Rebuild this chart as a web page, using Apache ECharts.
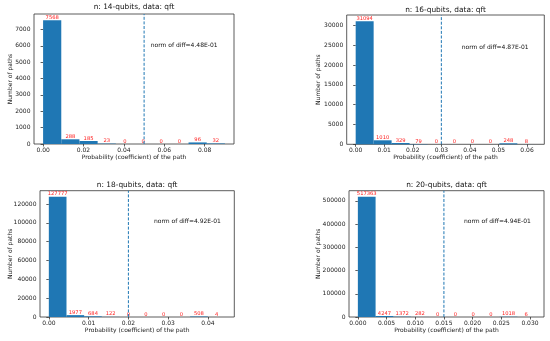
<!DOCTYPE html>
<html>
<head>
<meta charset="utf-8">
<script src="https://cdn.jsdelivr.net/npm/echarts@6/dist/echarts.min.js"></script>
<style>html,body{margin:0;padding:0;background:#fff}#c{width:550px;height:341px}</style>
</head>
<body>
<div id="c"></div>
<script>
// ---- data ----
const titles = ['n: 14-qubits, data: qft', 'n: 16-qubits, data: qft', 'n: 18-qubits, data: qft', 'n: 20-qubits, data: qft'];
const counts14 = [7568, 288, 185, 23, 0, 0, 0, 0, 96, 32];
const counts16 = [31094, 1010, 329, 79, 0, 0, 0, 0, 248, 8];
const counts18 = [127777, 1977, 684, 122, 0, 0, 0, 0, 508, 4];
const counts20 = [517363, 4247, 1372, 282, 0, 0, 0, 0, 1018, 6];
const binWidths = [0.009, 0.00629, 0.00444, 0.00309];
const thresholds = [0.05, 0.03, 0.02, 0.015];
const normTexts = ['norm of diff=4.48E-01', 'norm of diff=4.87E-01', 'norm of diff=4.92E-01', 'norm of diff=4.94E-01'];
const xTicks14 = ['0.00', '0.02', '0.04', '0.06', '0.08'];
const xTicks16 = ['0.00', '0.01', '0.02', '0.03', '0.04', '0.05', '0.06'];
const xTicks18 = ['0.00', '0.01', '0.02', '0.03', '0.04'];
const xTicks20 = ['0.000', '0.005', '0.010', '0.015', '0.020', '0.025', '0.030'];
const yTicks14 = [0, 1000, 2000, 3000, 4000, 5000, 6000, 7000];
const yTicks16 = [0, 5000, 10000, 15000, 20000, 25000, 30000];
const yTicks18 = [0, 20000, 40000, 60000, 80000, 100000, 120000];
const yTicks20 = [0, 100000, 200000, 300000, 400000, 500000];
const xAxisName = 'Probability (coefficient) of the path';
const yAxisName = 'Number of paths';

// ---- layout ----
const counts = [counts14, counts16, counts18, counts20];
const xTicks = [xTicks14, xTicks16, xTicks18, xTicks20];
const yTicks = [yTicks14, yTicks16, yTicks18, yTicks20];
const grids = [
  {left: 34, top: 14, width: 200, height: 130},
  {left: 346.7, top: 15, width: 197.6, height: 129.3},
  {left: 40, top: 190.7, width: 194.3, height: 126.3},
  {left: 349, top: 190.7, width: 195, height: 126.3}
];
const titleCenters = [7.5, 10, 185, 185];
const yNameGaps = [20.5, 25, 27, 28];
const normPos = [[150.7, 45.7], [461.7, 47.7], [154, 222.3], [464, 222.3]];
const FONT = 'DejaVu Sans';
const BLUE = '#1f77b4';

const option = {
  animation: false,
  backgroundColor: '#fff',
  title: [], grid: [], xAxis: [], yAxis: [], series: [], graphic: []
};

grids.forEach((g, k) => {
  const bw = binWidths[k];
  const n = counts[k].length;
  const dataMax = bw * n;
  const margin = dataMax * 0.05;
  const yMax = Math.max(...counts[k]) * 1.05;
  const xt = xTicks[k];
  option.grid.push({left: g.left, top: g.top, width: g.width, height: g.height,
    show: true, borderColor: '#333', borderWidth: 0.8, containLabel: false});
  option.title.push({
    text: titles[k], left: g.left + g.width / 2, top: titleCenters[k] - 4.2, textAlign: 'center',
    padding: 0,
    textStyle: {fontFamily: FONT, fontSize: 7.4, fontWeight: 'normal', color: '#111', lineHeight: 8.4}
  });
  option.xAxis.push({
    type: 'value', gridIndex: k, min: -margin, max: dataMax + margin,
    splitLine: {show: false}, axisLine: {show: false},
    axisTick: {show: true, length: 2.5, customValues: xt.map(Number), lineStyle: {color: '#333', width: 0.8}},
    axisLabel: {customValues: xt.map(Number), margin: 3.5, fontFamily: FONT, fontSize: 6, color: '#222',
      formatter: v => { const i = xt.map(Number).findIndex(t => Math.abs(t - v) < 1e-9); return i >= 0 ? xt[i] : ''; }},
    name: xAxisName, nameLocation: 'middle', nameGap: 10.5, nameMoveOverlap: false,
    nameTextStyle: {fontFamily: FONT, fontSize: 6, color: '#222'}
  });
  option.yAxis.push({
    type: 'value', gridIndex: k, min: 0, max: yMax,
    splitLine: {show: false}, axisLine: {show: false},
    axisTick: {show: true, length: 2.5, customValues: yTicks[k], lineStyle: {color: '#333', width: 0.8}},
    axisLabel: {customValues: yTicks[k], margin: 3.5, fontFamily: FONT, fontSize: 6, color: '#222',
      formatter: v => String(v)},
    name: yAxisName, nameLocation: 'middle', nameGap: yNameGaps[k], nameRotate: 90, nameMoveOverlap: false,
    nameTextStyle: {fontFamily: FONT, fontSize: 6, color: '#222'}
  });
  const data = counts[k].map((c, i) => [i * bw, (i + 1) * bw, c]);
  option.series.push({
    type: 'custom', xAxisIndex: k, yAxisIndex: k, data: data,
    encode: {x: [0, 1], y: 2},
    clip: false,
    itemStyle: {color: BLUE},
    renderItem: (params, api) => {
      const x0 = api.value(0), x1 = api.value(1), c = api.value(2);
      const p0 = api.coord([x0, c]);
      const p1 = api.coord([x1, 0]);
      return {
        type: 'group',
        children: [
          {type: 'rect', shape: {x: p0[0], y: p0[1], width: p1[0] - p0[0], height: p1[1] - p0[1]},
            style: {fill: BLUE}},
          {type: 'text', style: {text: String(c), x: (p0[0] + p1[0]) / 2, y: p0[1] - 0.3,
            textAlign: 'center', textVerticalAlign: 'bottom', fill: '#ff2020', fontSize: 5.2, fontFamily: FONT}}
        ]
      };
    }
  });
  option.series.push({
    type: 'line', xAxisIndex: k, yAxisIndex: k, silent: true,
    data: [[thresholds[k], 0], [thresholds[k], yMax]],
    symbol: 'none', showSymbol: false,
    lineStyle: {color: BLUE, type: [3, 1.6], width: 1},
    itemStyle: {color: BLUE}
  });
  option.graphic.push({
    type: 'text', left: normPos[k][0], top: normPos[k][1] - 3.5,
    style: {text: normTexts[k], fill: '#111', fontSize: 6, fontFamily: FONT}
  });
});

const chart = echarts.init(document.getElementById('c'), null, {renderer: 'canvas'});
chart.setOption(option);
</script>
</body>
</html>
